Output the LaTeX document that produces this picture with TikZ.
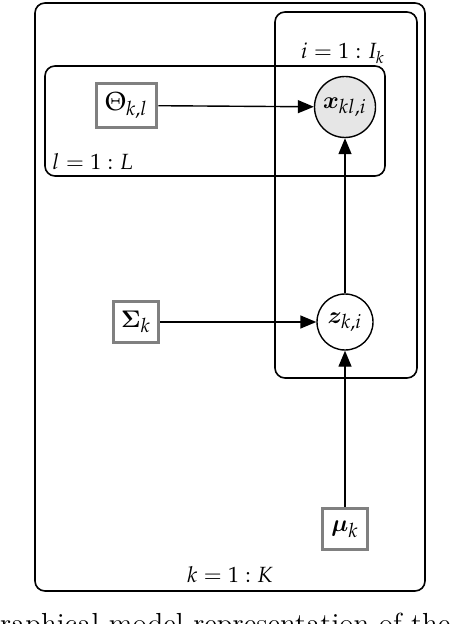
\documentclass[tikz,border=0pt]{standalone}
\usepackage{mathpazo}
\usepackage{amsmath}
\usetikzlibrary{arrows.meta}
\newcommand{\cmbivec}[1]{\text{\usefont{OML}{cmm}{b}{it}#1}}
\newcommand{\cmbSigma}{\text{\usefont{OT1}{cmr}{bx}{n}\char6}}
\newcommand{\cmbmu}{\text{\usefont{OML}{cmm}{b}{it}\char"16}}
\definecolor{obsgray}{HTML}{E6E6E6}
\definecolor{boxgray}{HTML}{808080}
\tikzset{
  plate/.style={draw=black, line width=0.8pt, rounded corners=5pt},
  param/.style={draw=boxgray, line width=1.8pt, fill=white, inner sep=0pt, font=\fontsize{13}{15}\selectfont},
  latent/.style={circle, draw=black, line width=0.7pt, fill=white, inner sep=0.3pt, minimum size=28pt, font=\fontsize{13}{15}\selectfont},
  observed/.style={latent, fill=obsgray},
  edge/.style={line width=0.7pt, -{Triangle[length=8pt,width=6.5pt]}},
  lbl/.style={inner sep=0pt, font=\fontsize{11}{13}\selectfont}
}
\begin{document}
\begin{tikzpicture}[x=0.5pt,y=-0.5pt]
\useasboundingbox (0,0) rectangle (452,624);
\clip (0,0) rectangle (452,624);
% plates
\draw[plate] (35,3) rectangle (425,591);
\draw[plate] (275,12) rectangle (417,378);
\draw[plate] (45,66) rectangle (385,176);
% nodes
\node[param, minimum width=30pt, minimum height=22pt] (theta) at (126.5,105.5) {$\Theta_{k,l}$};
\node[observed, minimum size=30.5pt] (x) at (345,107) {$\cmbivec{x}_{kl,i}$};
\node[param, minimum width=22.5pt, minimum height=20.5pt] (sigma) at (136,322) {$\cmbSigma_k$};
\node[latent] (z) at (345,322) {$\cmbivec{z}_{k,i}$};
\node[param, minimum width=22.5pt, minimum height=20.5pt] (mu) at (345,529) {$\cmbmu_k$};
% labels
\node[lbl] (li) at (343,53) {$i=1:I_k$};
\node[lbl, anchor=west] (ll) at (52,162) {$l=1:L$};
\node[lbl] (lk) at (230,575) {$k=1:K$};
\node[lbl, anchor=base east, font=\fontsize{14.5}{16}\selectfont] (cap) at (451,633) {graphical model representation of the};
% edges
\draw[edge] (theta) -- (x);
\draw[edge] (sigma) -- (z);
\draw[edge] (z) -- (x);
\draw[edge] (mu) -- (z);
\end{tikzpicture}
\end{document}
